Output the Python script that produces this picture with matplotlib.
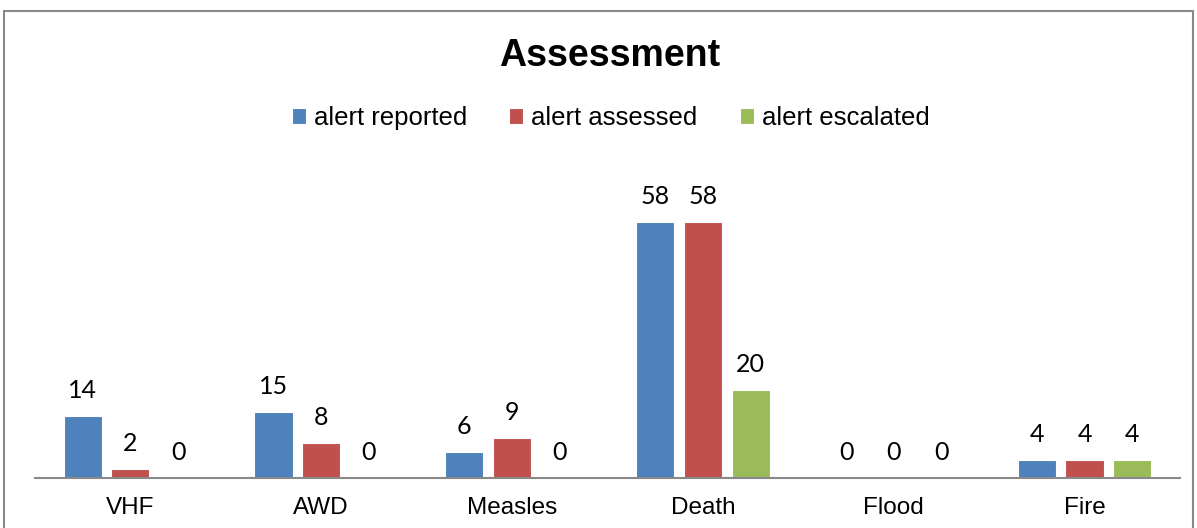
import numpy as np
import matplotlib
import matplotlib.pyplot as plt
from matplotlib.patches import Rectangle

matplotlib.use('Agg')

categories = ['VHF', 'AWD', 'Measles', 'Death', 'Flood', 'Fire']
series_names = ['alert reported', 'alert assessed', 'alert escalated']
reported = [14, 15, 6, 58, 0, 4]
assessed = [2, 8, 9, 58, 0, 4]
escalated = [0, 0, 0, 20, 0, 4]

colors = ['#4F81BD', '#C0504D', '#9BBB59']

fig = plt.figure(figsize=(11.97, 5.28), dpi=100)
ax = fig.add_axes([0.0292, 0.0947, 0.9566, 0.585])

x = np.arange(len(categories))
width = 0.2
step = 0.25

for i, (name, vals) in enumerate(zip(series_names, [reported, assessed, escalated])):
    pos = x + (i - 1) * step
    bars = ax.bar(pos, vals, width, color=colors[i], label=name, edgecolor='white', linewidth=0.8)
    for p, v in zip(pos, vals):
        ax.annotate(str(v), (p, v), xytext=(0, 10), textcoords='offset points',
                    ha='center', va='bottom', fontsize=18, family='Lato')

ax.set_xlim(-0.5, len(categories) - 0.5)
ax.set_ylim(0, 70)
ax.set_xticks(x)
ax.set_xticklabels(categories, fontsize=17.5, family='Liberation Sans')
ax.tick_params(axis='x', length=0, pad=14)
ax.set_yticks([])
for s in ['top', 'right', 'left']:
    ax.spines[s].set_visible(False)
ax.spines['bottom'].set_color('#898989')
ax.spines['bottom'].set_linewidth(1.5)

fig.text(0.509, 0.893, 'Assessment', ha='center', va='center', fontsize=27,
         fontweight='bold', family='Liberation Sans')

fig.legend(loc='center', bbox_to_anchor=(0.51, 0.776), ncol=3, frameon=False,
           prop={'family': 'Liberation Sans', 'size': 18.5}, handlelength=0.55,
           handleheight=0.55, handletextpad=0.3, columnspacing=1.65)

# chart border
fig.patches.append(Rectangle((4 / 1197, -0.05), 1189 / 1197, (528 - 11) / 528 + 0.05,
                             transform=fig.transFigure, fill=False,
                             edgecolor='#898989', linewidth=1.5))

fig.savefig('out.png', dpi=100)
